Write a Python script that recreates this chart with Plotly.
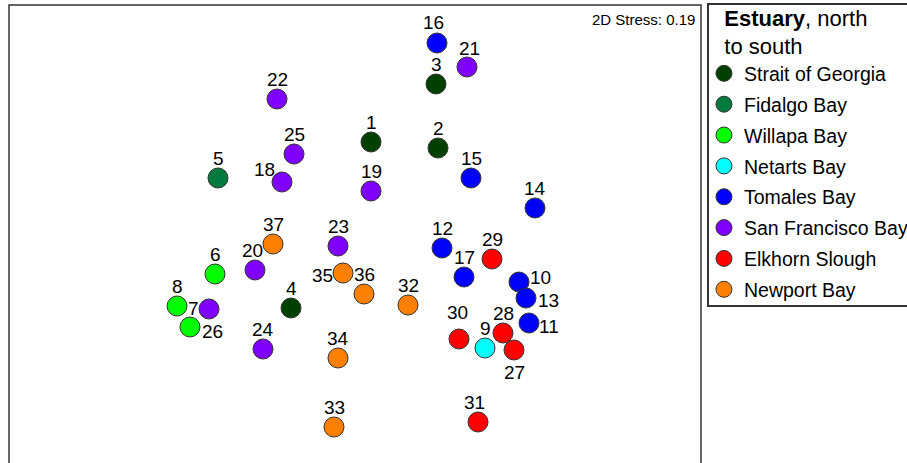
import plotly.graph_objects as go

# NMDS ordination of estuary samples (axis 1, axis 2)
site_ids = list(range(1, 38))
nmds1 = [0.16, 0.83, 0.81, -0.64, -1.37, -1.40, -1.46, -1.78, 1.30, 1.64,
         1.74, 0.87, 1.71, 1.80, 1.16, 0.82, 1.09, -0.73, 0.16, -1.00,
         1.12, -0.78, -0.17, -0.92, -0.61, -1.65, 1.59, 1.48, 1.37, 1.04,
         1.23, 0.53, -0.21, -0.17, -0.12, 0.09, -0.82]
nmds2 = [0.93, 0.87, 1.51, -0.73, 0.57, -0.39, -0.74, -0.71, -1.13, -0.47,
         -0.88, -0.13, -0.63, 0.27, 0.57, 1.92, -0.42, 0.53, 0.44, -0.35,
         1.68, 1.36, -0.11, -1.14, 0.81, -0.92, -1.15, -0.98, -0.24, -1.04,
         -1.87, -0.70, -1.92, -1.23, -0.38, -0.59, -0.09]

# Estuaries, ordered north to south, with member sites
estuaries = ["Strait of Georgia", "Fidalgo Bay", "Willapa Bay", "Netarts Bay",
             "Tomales Bay", "San Francisco Bay", "Elkhorn Slough", "Newport Bay"]
estuary_sites = [
    [1, 2, 3, 4],
    [5],
    [6, 8, 26],
    [9],
    [10, 11, 12, 13, 14, 15, 16, 17],
    [7, 18, 19, 20, 21, 22, 23, 24, 25],
    [27, 28, 29, 30, 31],
    [32, 33, 34, 35, 36, 37],
]
stress = 0.19

colors = ["#004000", "#007A3D", "#00FF00", "#00FFFF",
          "#0000FF", "#8000FF", "#FF0000", "#FF8000"]

# site-label offsets from the marker centre, in pixels (right, up)
LABEL_DEFAULT = (0, 20)
label_shift = {16: (-4, 21), 18: (-18, 13), 35: (-21, -2), 10: (21, 5),
               13: (22, -2), 7: (-16, 1), 26: (22, -4), 11: (20, -3),
               30: (-2, 27), 27: (0, -22), 31: (-4, 20), 21: (2, 19),
               20: (-3, 20)}

FONT = "Liberation Sans, Arial, sans-serif"

fig = go.Figure()
for name, sites, col in zip(estuaries, estuary_sites, colors):
    xs = [nmds1[s - 1] for s in sites]
    ys = [nmds2[s - 1] for s in sites]
    fig.add_trace(go.Scatter(
        x=xs, y=ys, mode="markers", name=name, legendgroup=name,
        text=[str(s) for s in sites],
        marker=dict(size=20, color=col, line=dict(color="#333", width=1)),
        cliponaxis=False,
    ))

# site number labels
for s, x, y in zip(site_ids, nmds1, nmds2):
    dx, dy = label_shift.get(s, LABEL_DEFAULT)
    fig.add_annotation(x=x, y=y, text=str(s), showarrow=False,
                       xanchor="center", yanchor="middle",
                       xshift=dx, yshift=dy,
                       font=dict(family=FONT, size=19, color="#000"))

# frame around the ordination (open at the bottom edge of the page)
fig.add_shape(type="path", xref="paper", yref="paper",
              path="M 0 -0.2 L 0 1 L 1 1 L 1 -0.2",
              line=dict(color="#333", width=1.5))
# box around the legend
fig.add_shape(type="rect", xref="paper", yref="paper",
              x0=1.0101, x1=1.40, y0=0.3428, y1=1.002,
              line=dict(color="#333", width=2), fillcolor="rgba(0,0,0,0)")

fig.add_annotation(text=f"2D Stress: {stress}", xref="paper", yref="paper",
                   x=0.994, y=1, xanchor="right", yanchor="top", yshift=-4,
                   showarrow=False, font=dict(family=FONT, size=15, color="#000"))

fig.update_xaxes(range=[-3.46, 3.46], visible=False)
fig.update_yaxes(range=[-2.28, 2.30], visible=False)

fig.update_layout(
    width=907, height=463,
    margin=dict(l=9, r=206, t=5, b=0, autoexpand=False),
    plot_bgcolor="white", paper_bgcolor="white",
    font=dict(family=FONT, color="#000"),
    legend=dict(
        title=dict(text="\u00a0\u00a0\u00a0<b>Estuary</b>, north<br>\u00a0\u00a0\u00a0to south",
                   font=dict(family=FONT, size=22), side="top"),
        font=dict(family=FONT, size=19.5),
        x=1.0043, xanchor="left", y=1.0175, yanchor="top",
        borderwidth=0, bgcolor="rgba(0,0,0,0)",
        tracegroupgap=2.5, itemsizing="trace", maxheight=1,
    ),
)

fig.write_html("out.html")
